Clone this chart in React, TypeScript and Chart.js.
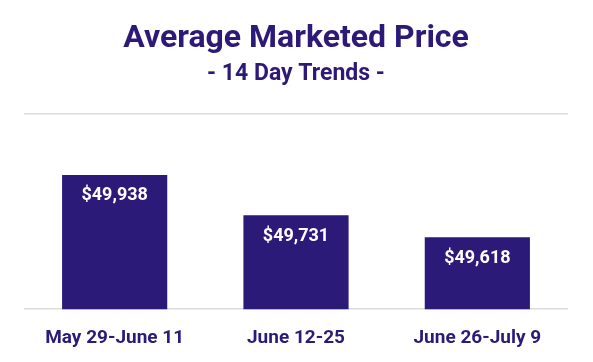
import React, { useEffect, useRef } from "react";
import { Chart, registerables } from "chart.js";

Chart.register(...registerables);

const categories = ["May 29-June 11", "June 12-25", "June 26-July 9"];
const prices = [49938, 49731, 49618];
const yMin = 49250;
const yMax = 50250;
const titleText = "Average Marketed Price";
const subtitleText = "- 14 Day Trends -";

const PURPLE = "#2b1a78";
const FONT = "Roboto, 'Open Sans', sans-serif";

const valueLabels = {
  id: "valueLabels",
  afterDatasetsDraw(chart: any) {
    const ctx = chart.ctx;
    const meta = chart.getDatasetMeta(0);
    ctx.save();
    ctx.fillStyle = "#ffffff";
    ctx.font = `bold 18px ${FONT}`;
    ctx.textAlign = "center";
    ctx.textBaseline = "middle";
    meta.data.forEach((bar: any, i: number) => {
      const v = chart.data.datasets[0].data[i] as number;
      ctx.fillText("$" + v.toLocaleString("en-US"), bar.x, bar.y + 21);
    });
    ctx.restore();
  },
};

export default function App() {
  const ref = useRef<HTMLCanvasElement>(null);
  useEffect(() => {
    document.body.style.margin = "0";
    const chart = new Chart(ref.current!, {
      type: "bar",
      data: {
        labels: categories,
        datasets: [
          {
            data: prices,
            backgroundColor: PURPLE,
            borderWidth: 0,
            categoryPercentage: 0.58,
            barPercentage: 1,
          },
        ],
      },
      options: {
        animation: false,
        responsive: false,
        layout: { padding: { left: 24, right: 25, top: 14, bottom: -6 } },
        plugins: {
          legend: { display: false },
          tooltip: { enabled: false },
          title: {
            display: true,
            text: titleText,
            color: PURPLE,
            font: { family: FONT, size: 32, weight: "bold" },
            padding: { top: 6, bottom: 2 },
          },
          subtitle: {
            display: true,
            text: subtitleText,
            color: PURPLE,
            font: { family: FONT, size: 23, weight: "bold" },
            padding: { top: 0, bottom: 26 },
          },
        },
        scales: {
          x: {
            grid: { display: false, drawTicks: false },
            border: { display: false },
            ticks: {
              color: PURPLE,
              font: { family: FONT, size: 19, weight: "bold" },
              padding: 18,
            },
          },
          y: {
            min: yMin,
            max: yMax,
            afterBuildTicks: (axis: any) => {
              axis.ticks = [{ value: yMin }, { value: yMax }];
            },
            ticks: { display: false },
            border: { display: false },
            grid: { color: "#dcdcdc", lineWidth: 1.5, drawTicks: false },
          },
        },
      },
      plugins: [valueLabels],
    });
    return () => chart.destroy();
  }, []);
  return (
    <div style={{ width: 593, height: 362 }}>
      <canvas ref={ref} width={593} height={362} />
    </div>
  );
}
